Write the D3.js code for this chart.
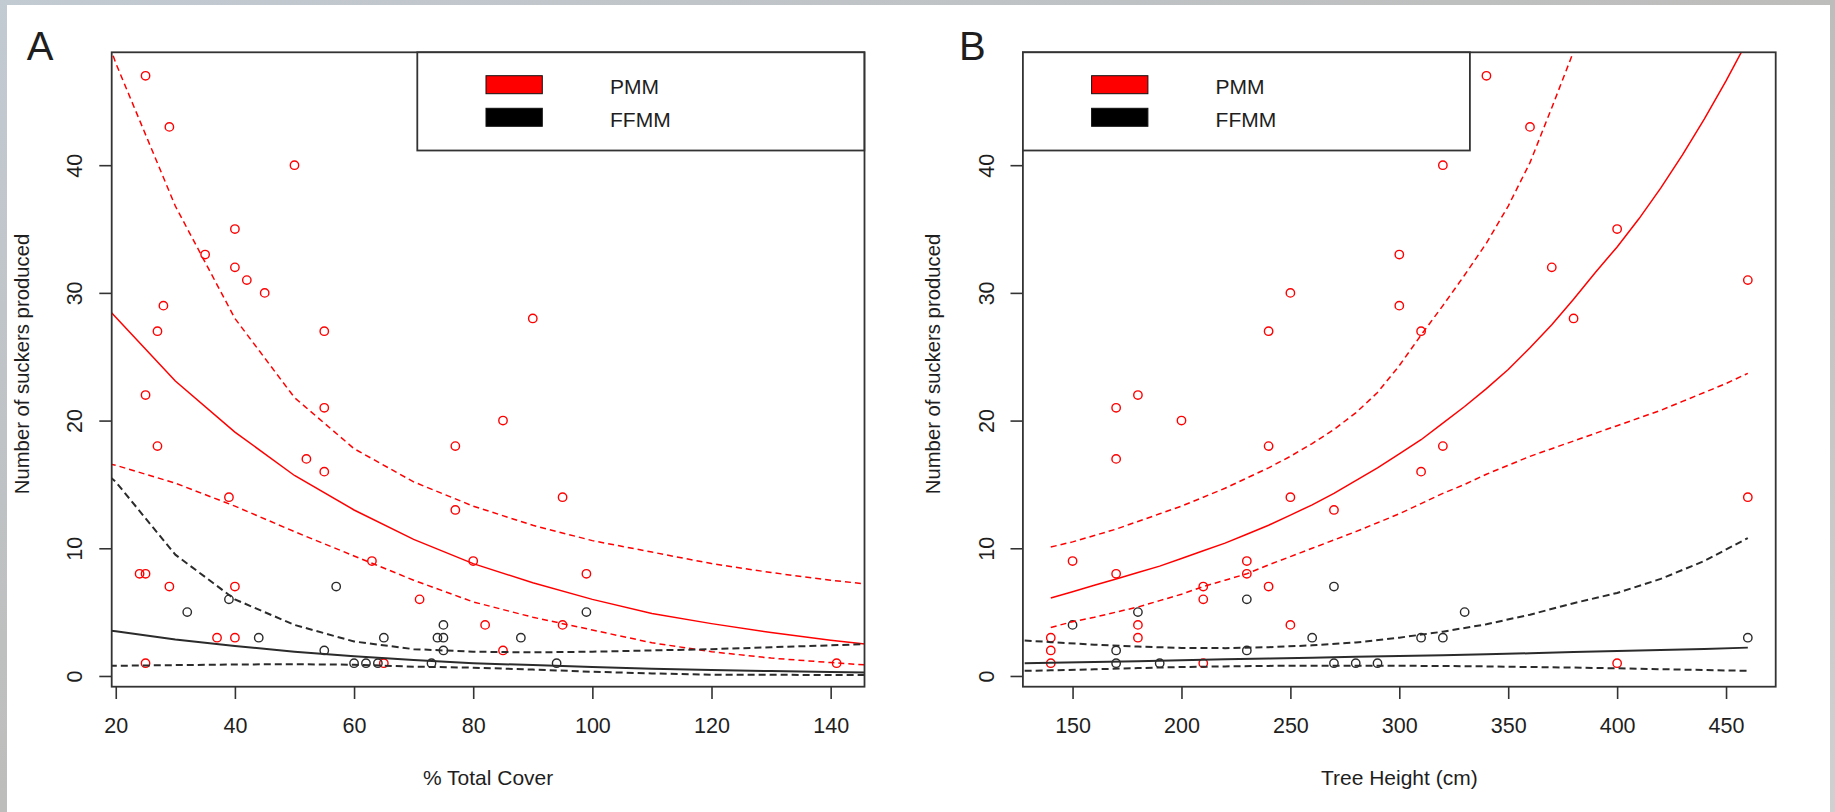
<!DOCTYPE html>
<html>
<head>
<meta charset="utf-8">
<script src="https://cdn.jsdelivr.net/npm/d3@7/dist/d3.min.js"></script>
<style>
  html, body { margin: 0; padding: 0; background: #c3c6c9; }
  svg { display: block; }
  text { font-family: "Liberation Sans", Arial, sans-serif; fill: #1e1e1e; }
</style>
</head>
<body>
<svg id="chart" width="1835" height="812"></svg>
<script>
// ---- tick labels ----
const coverTicks = [20, 40, 60, 80, 100, 120, 140];
const heightTicks = [150, 200, 250, 300, 350, 400, 450];
const countTicks = [0, 10, 20, 30, 40];
const legendLabels = ['PMM', 'FFMM'];

// ---- panel A points: [% total cover, suckers] ----
const coverPmm = [[25,47],[29,43],[50,40],[40,35],[35,33],[40,32],[42,31],[45,30],[28,29],[90,28],
  [27,27],[55,27],[25,22],[55,21],[85,20],[27,18],[77,18],[52,17],[55,16],[39,14],[95,14],[77,13],
  [63,9],[80,9],[24,8],[25,8],[99,8],[29,7],[40,7],[71,6],[82,4],[95,4],[37,3],[40,3],[85,2],
  [25,1],[65,1],[141,1]];
const coverFfmm = [[32,5],[39,6],[44,3],[55,2],[57,7],[60,1],[62,1],[64,1],[65,3],[73,1],[74,3],
  [75,3],[75,4],[75,2],[88,3],[94,1],[99,5]];

// ---- panel B points: [tree height, suckers] ----
const heightPmm = [[340,47],[360,43],[320,40],[400,35],[300,33],[370,32],[460,31],[250,30],[300,29],
  [380,28],[240,27],[310,27],[180,22],[170,21],[200,20],[170,17],[240,18],[320,18],[310,16],[250,14],
  [460,14],[270,13],[150,9],[230,9],[170,8],[230,8],[210,7],[240,7],[210,6],[180,4],[250,4],[180,3],
  [140,3],[140,2],[140,1],[210,1],[400,1]];
const heightFfmm = [[150,4],[180,5],[170,2],[170,1],[190,1],[230,6],[230,2],[260,3],[270,7],[270,1],
  [280,1],[290,1],[310,3],[320,3],[330,5],[460,3]];

// ---- panel A fitted curves ----
const coverX = [19, 20, 30, 40, 50, 60, 70, 80, 90, 100, 110, 120, 130, 140, 146];
const coverPmmFit = [28.6, 28.1, 23.1, 19.1, 15.7, 13.0, 10.7, 8.8, 7.3, 6.0, 4.9, 4.1, 3.4, 2.8, 2.5];
const coverPmmHi = [49.3, 48.0, 36.8, 28.0, 21.8, 17.8, 15.2, 13.3, 11.8, 10.6, 9.7, 8.8, 8.1, 7.5, 7.2];
const coverPmmLo = [16.6, 16.5, 15.1, 13.3, 11.3, 9.4, 7.5, 5.8, 4.6, 3.6, 2.6, 1.9, 1.4, 1.05, 0.86];
const coverFfmmFit = [3.55, 3.5, 2.85, 2.35, 1.9, 1.55, 1.25, 1.0, 0.85, 0.7, 0.57, 0.47, 0.38, 0.31, 0.28];
const coverFfmmHi = [15.6, 15.2, 9.5, 6.0, 4.0, 2.7, 2.1, 1.9, 1.85, 1.9, 2.0, 2.1, 2.25, 2.4, 2.5];
const coverFfmmLo = [0.8, 0.8, 0.85, 0.9, 0.92, 0.88, 0.73, 0.65, 0.5, 0.33, 0.2, 0.1, 0.09, 0.08, 0.08];

// ---- panel B fitted curves ----
const heightX = [140, 150, 160, 170, 180, 190, 200, 210, 220, 230, 240, 250, 260, 270, 280, 290, 300,
  310, 320, 330, 340, 350, 360, 370, 380, 390, 400, 410, 420, 430, 440, 450, 460];
const heightPmmFit = [6.1, 6.6, 7.1, 7.6, 8.1, 8.6, 9.2, 9.8, 10.4, 11.1, 11.8, 12.6, 13.4, 14.3, 15.3,
  16.3, 17.4, 18.5, 19.8, 21.1, 22.5, 24.0, 25.7, 27.5, 29.5, 31.6, 33.6, 35.8, 38.2, 40.8, 43.6, 46.6, 49.8];
const heightPmmHi = [10.1, 10.5, 11.0, 11.5, 12.1, 12.7, 13.3, 14.0, 14.7, 15.5, 16.3, 17.2, 18.2, 19.3,
  20.6, 22.2, 24.3, 26.7, 29.0, 31.4, 33.9, 36.8, 40.2, 44.5, 48.9, 54.0];
const heightPmmLo = [3.8, 4.25, 4.6, 5.0, 5.4, 5.9, 6.4, 7.0, 7.5, 8.0, 8.7, 9.35, 10.0, 10.65, 11.3,
  12.0, 12.7, 13.5, 14.3, 15.0, 15.8, 16.5, 17.2, 17.8, 18.4, 19.0, 19.6, 20.2, 20.8, 21.5, 22.2, 22.9, 23.7];
const heightFfX = [128, 140, 160, 180, 200, 220, 240, 260, 280, 300, 320, 340, 360, 380, 400, 420, 440, 460];
const heightFfmmFit = [1.0, 1.04, 1.1, 1.16, 1.24, 1.3, 1.37, 1.43, 1.5, 1.56, 1.63, 1.7, 1.78, 1.87, 1.95, 2.03, 2.12, 2.22];
const heightFfmmHi = [2.78, 2.65, 2.45, 2.3, 2.2, 2.18, 2.25, 2.4, 2.62, 3.0, 3.47, 4.05, 4.8, 5.7, 6.5, 7.6, 9.0, 10.8];
const heightFfmmLo = [0.4, 0.44, 0.52, 0.62, 0.7, 0.75, 0.79, 0.81, 0.81, 0.8, 0.78, 0.75, 0.7, 0.66, 0.6, 0.53, 0.47, 0.4];

const RED = '#ff0000';
const DARK = '#2b2b2b';

const svg = d3.select('#chart');

// =====================
// BACKGROUND
// =====================
const grad = svg.append('defs').append('linearGradient')
  .attr('id', 'bg').attr('x1', 0).attr('y1', 0).attr('x2', 1).attr('y2', 1);
grad.append('stop').attr('offset', '0%').attr('stop-color', '#c2cad2');
grad.append('stop').attr('offset', '50%').attr('stop-color', '#bdbdbb');
grad.append('stop').attr('offset', '100%').attr('stop-color', '#d0d0d0');
svg.append('rect').attr('width', 1835).attr('height', 812).attr('fill', 'url(#bg)');
svg.append('rect').attr('x', 7).attr('y', 5).attr('width', 1823).attr('height', 807).attr('fill', '#fff');

// shared y layout
const plotTop = 52.3, plotBottom = 686.7, plotW = 752.8;
const allY = coverPmm.concat(coverFfmm).map(d => d[1]);
const yExt = d3.extent(allY);
const yPad = (yExt[1] - yExt[0]) * 0.04;

function padded(pts) {
  const e = d3.extent(pts, d => d[0]);
  const pad = (e[1] - e[0]) * 0.04;
  return [e[0] - pad, e[1] + pad];
}

// =====================
// ONE PANEL
// =====================
function drawPanel(p) {
  const x = d3.scaleLinear().domain(padded(p.red.concat(p.black))).range([p.left, p.left + plotW]);
  const y = d3.scaleLinear().domain([yExt[0] - yPad, yExt[1] + yPad]).range([plotBottom, plotTop]);

  const g = svg.append('g');

  g.append('clipPath').attr('id', 'clip' + p.letter)
    .append('rect')
    .attr('x', p.left).attr('y', plotTop)
    .attr('width', plotW).attr('height', plotBottom - plotTop);

  // points
  const pts = g.append('g');
  [[p.red, RED], [p.black, DARK]].forEach(([data, col]) => {
    pts.selectAll(null)
      .data(data)
      .enter()
      .append('circle')
      .attr('cx', d => x(d[0]))
      .attr('cy', d => y(d[1]))
      .attr('r', 4.2)
      .attr('fill', 'none')
      .attr('stroke', col)
      .attr('stroke-width', 1.4);
  });

  // fitted lines + bands
  const line = d3.line().x(d => x(d[0])).y(d => y(d[1]));
  const lg = g.append('g').attr('clip-path', `url(#clip${p.letter})`);
  p.lines.forEach(l => {
    const data = l.ys.map((v, i) => [l.xs[i], v]);
    lg.append('path')
      .attr('d', line(data))
      .attr('fill', 'none')
      .attr('stroke', l.col)
      .attr('stroke-width', l.col === RED ? 1.5 : 2)
      .attr('stroke-dasharray', l.dash ? (l.col === RED ? '6,4' : '7,4') : null);
  });

  // box
  g.append('rect')
    .attr('x', p.left).attr('y', plotTop)
    .attr('width', plotW).attr('height', plotBottom - plotTop)
    .attr('fill', 'none').attr('stroke', '#333').attr('stroke-width', 1.8);

  // axes
  const xAxis = g.append('g')
    .attr('transform', `translate(0,${plotBottom})`)
    .call(d3.axisBottom(x).tickValues(p.ticks).tickSize(12.3).tickSizeOuter(0));
  xAxis.select('.domain').remove();
  xAxis.selectAll('line').attr('stroke', '#333').attr('stroke-width', 1.6);
  xAxis.selectAll('text')
    .attr('y', 46.6).attr('dy', null)
    .attr('font-size', 21.5).attr('font-family', null).attr('fill', '#1e1e1e');

  const yAxis = g.append('g')
    .attr('transform', `translate(${p.left},0)`)
    .call(d3.axisLeft(y).tickValues(countTicks).tickSize(12.4).tickSizeOuter(0));
  yAxis.select('.domain').remove();
  yAxis.selectAll('line').attr('stroke', '#333').attr('stroke-width', 1.6);
  yAxis.selectAll('text')
    .attr('x', 0).attr('y', 0).attr('dy', null)
    .attr('text-anchor', 'middle')
    .attr('transform', 'translate(-29.4,0) rotate(-90)')
    .attr('font-size', 21.5).attr('font-family', null).attr('fill', '#1e1e1e');

  // titles
  g.append('text')
    .attr('x', p.left + plotW / 2).attr('y', 785)
    .attr('text-anchor', 'middle').attr('font-size', 21)
    .text(p.xTitle);
  g.append('text')
    .attr('transform', `translate(${p.left - 83.1},364) rotate(-90)`)
    .attr('text-anchor', 'middle').attr('font-size', 20.3)
    .text('Number of suckers produced');
  g.append('text')
    .attr('x', p.letterX).attr('y', 60)
    .attr('font-size', 40)
    .text(p.letter);

  // legend
  const leg = g.append('g').attr('transform', `translate(${p.legendLeft},${plotTop})`);
  leg.append('rect')
    .attr('width', 447).attr('height', 98.2)
    .attr('fill', '#fff').attr('stroke', '#333').attr('stroke-width', 1.8);
  const rows = leg.selectAll('.row')
    .data(legendLabels)
    .enter()
    .append('g')
    .attr('class', 'row')
    .attr('transform', (d, i) => `translate(0,${i * 32.6})`);
  rows.append('rect')
    .attr('x', 68.7).attr('y', 23.4)
    .attr('width', 56.3).attr('height', 18)
    .attr('fill', (d, i) => i === 0 ? RED : '#000')
    .attr('stroke', '#111').attr('stroke-width', 1);
  rows.append('text')
    .attr('x', 192.7).attr('y', 42)
    .attr('font-size', 21)
    .text(d => d);
}

drawPanel({
  letter: 'A', letterX: 26.7, left: 111.7, legendLeft: 417.3,
  ticks: coverTicks, xTitle: '% Total Cover',
  red: coverPmm, black: coverFfmm,
  lines: [
    { xs: coverX, ys: coverPmmFit, col: RED, dash: false },
    { xs: coverX, ys: coverPmmHi, col: RED, dash: true },
    { xs: coverX, ys: coverPmmLo, col: RED, dash: true },
    { xs: coverX, ys: coverFfmmFit, col: DARK, dash: false },
    { xs: coverX, ys: coverFfmmHi, col: DARK, dash: true },
    { xs: coverX, ys: coverFfmmLo, col: DARK, dash: true }
  ]
});

drawPanel({
  letter: 'B', letterX: 959, left: 1022.9, legendLeft: 1022.9,
  ticks: heightTicks, xTitle: 'Tree Height (cm)',
  red: heightPmm, black: heightFfmm,
  lines: [
    { xs: heightX, ys: heightPmmFit, col: RED, dash: false },
    { xs: heightX, ys: heightPmmHi, col: RED, dash: true },
    { xs: heightX, ys: heightPmmLo, col: RED, dash: true },
    { xs: heightFfX, ys: heightFfmmFit, col: DARK, dash: false },
    { xs: heightFfX, ys: heightFfmmHi, col: DARK, dash: true },
    { xs: heightFfX, ys: heightFfmmLo, col: DARK, dash: true }
  ]
});
</script>
</body>
</html>
